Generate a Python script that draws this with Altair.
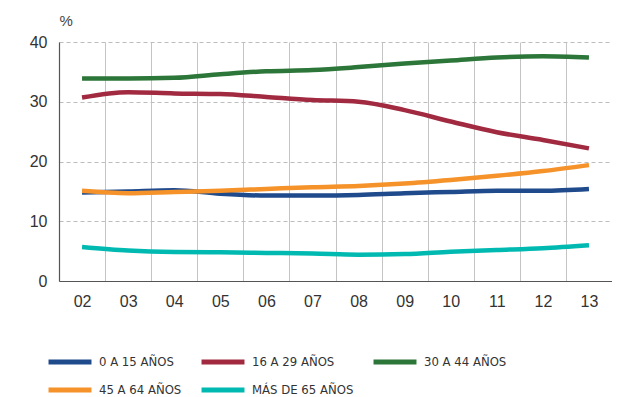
import altair as alt
import pandas as pd

years = ["02", "03", "04", "05", "06", "07", "08", "09", "10", "11", "12", "13"]
series = ["0 A 15 AÑOS", "16 A 29 AÑOS", "30 A 44 AÑOS", "45 A 64 AÑOS", "MÁS DE 65 AÑOS"]
colors = ["#1f4a8c", "#a12a40", "#2b7638", "#f5922a", "#00bab2"]

v_0_15 = [14.8, 15.0, 15.2, 14.6, 14.3, 14.3, 14.4, 14.7, 14.9, 15.1, 15.1, 15.4]
v_16_29 = [30.7, 31.6, 31.4, 31.3, 30.8, 30.3, 30.0, 28.6, 26.7, 24.9, 23.6, 22.2]
v_30_44 = [33.9, 33.9, 34.0, 34.6, 35.1, 35.3, 35.8, 36.4, 36.9, 37.4, 37.6, 37.4]
v_45_64 = [15.1, 14.7, 14.9, 15.1, 15.4, 15.7, 15.9, 16.3, 16.9, 17.6, 18.4, 19.4]
v_65 = [5.7, 5.1, 4.85, 4.8, 4.7, 4.6, 4.4, 4.5, 4.9, 5.2, 5.5, 6.0]

rows = []
for name, vals in zip(series, [v_0_15, v_16_29, v_30_44, v_45_64, v_65]):
    for y, v in zip(years, vals):
        rows.append({"year": y, "serie": name, "value": v})
df = pd.DataFrame(rows)

LEGEND_FONT = "Liberation Sans Narrow, DejaVu Sans Condensed, Liberation Sans, sans-serif"

chart = alt.Chart(df).mark_line(strokeWidth=4.5, interpolate="monotone").encode(
    x=alt.X(
        "year:O",
        sort=years,
        bandPosition=0.5,
        scale=alt.Scale(type="band", paddingInner=0, paddingOuter=0),
        axis=alt.Axis(
            title=None,
            tickBand="extent",
            grid=True,
            gridColor="#c4c4c4",
            gridWidth=1,
            ticks=False,
            labelAngle=0,
            labelPadding=12,
            labelFontSize=16,
            labelFont="Liberation Sans",
            labelColor="#333333",
            domainColor="#555555",
            domainWidth=1.2,
        ),
    ),
    y=alt.Y(
        "value:Q",
        scale=alt.Scale(domain=[0, 40], nice=False),
        axis=alt.Axis(
            values=[0, 10, 20, 30, 40],
            title="%",
            titleAngle=0,
            titleX=0,
            titleY=-22,
            titleAlign="left",
            titleBaseline="middle",
            titleFontSize=15,
            titleFontWeight="normal",
            titleFont="Liberation Sans",
            titleColor="#444444",
            grid=True,
            gridDash=[4, 3],
            gridColor="#bdbdbd",
            ticks=False,
            labelPadding=12,
            labelFontSize=16,
            labelFont="Liberation Sans",
            labelColor="#333333",
            domainColor="#555555",
            domainWidth=1.2,
        ),
    ),
    color=alt.Color(
        "serie:N",
        sort=series,
        scale=alt.Scale(domain=series, range=colors),
        legend=alt.Legend(
            title=None,
            orient="none",
            legendX=1,
            legendY=310,
            direction="horizontal",
            columns=3,
            columnPadding=9,
            rowPadding=8,
            symbolType="M-3,0H3",
            symbolSize=205,
            symbolStrokeWidth=5,
            labelOffset=19,
            labelFontSize=13,
            labelFont=LEGEND_FONT,
            labelColor="#333333",
        ),
    ),
).properties(
    width=553,
    height=239,
    autosize=alt.AutoSizeParams(type="none"),
    padding={"left": 51, "top": 34, "right": 0, "bottom": 116},
).configure_view(stroke=None)

chart.save("out.html", embed_options={"renderer": "svg", "actions": False})
